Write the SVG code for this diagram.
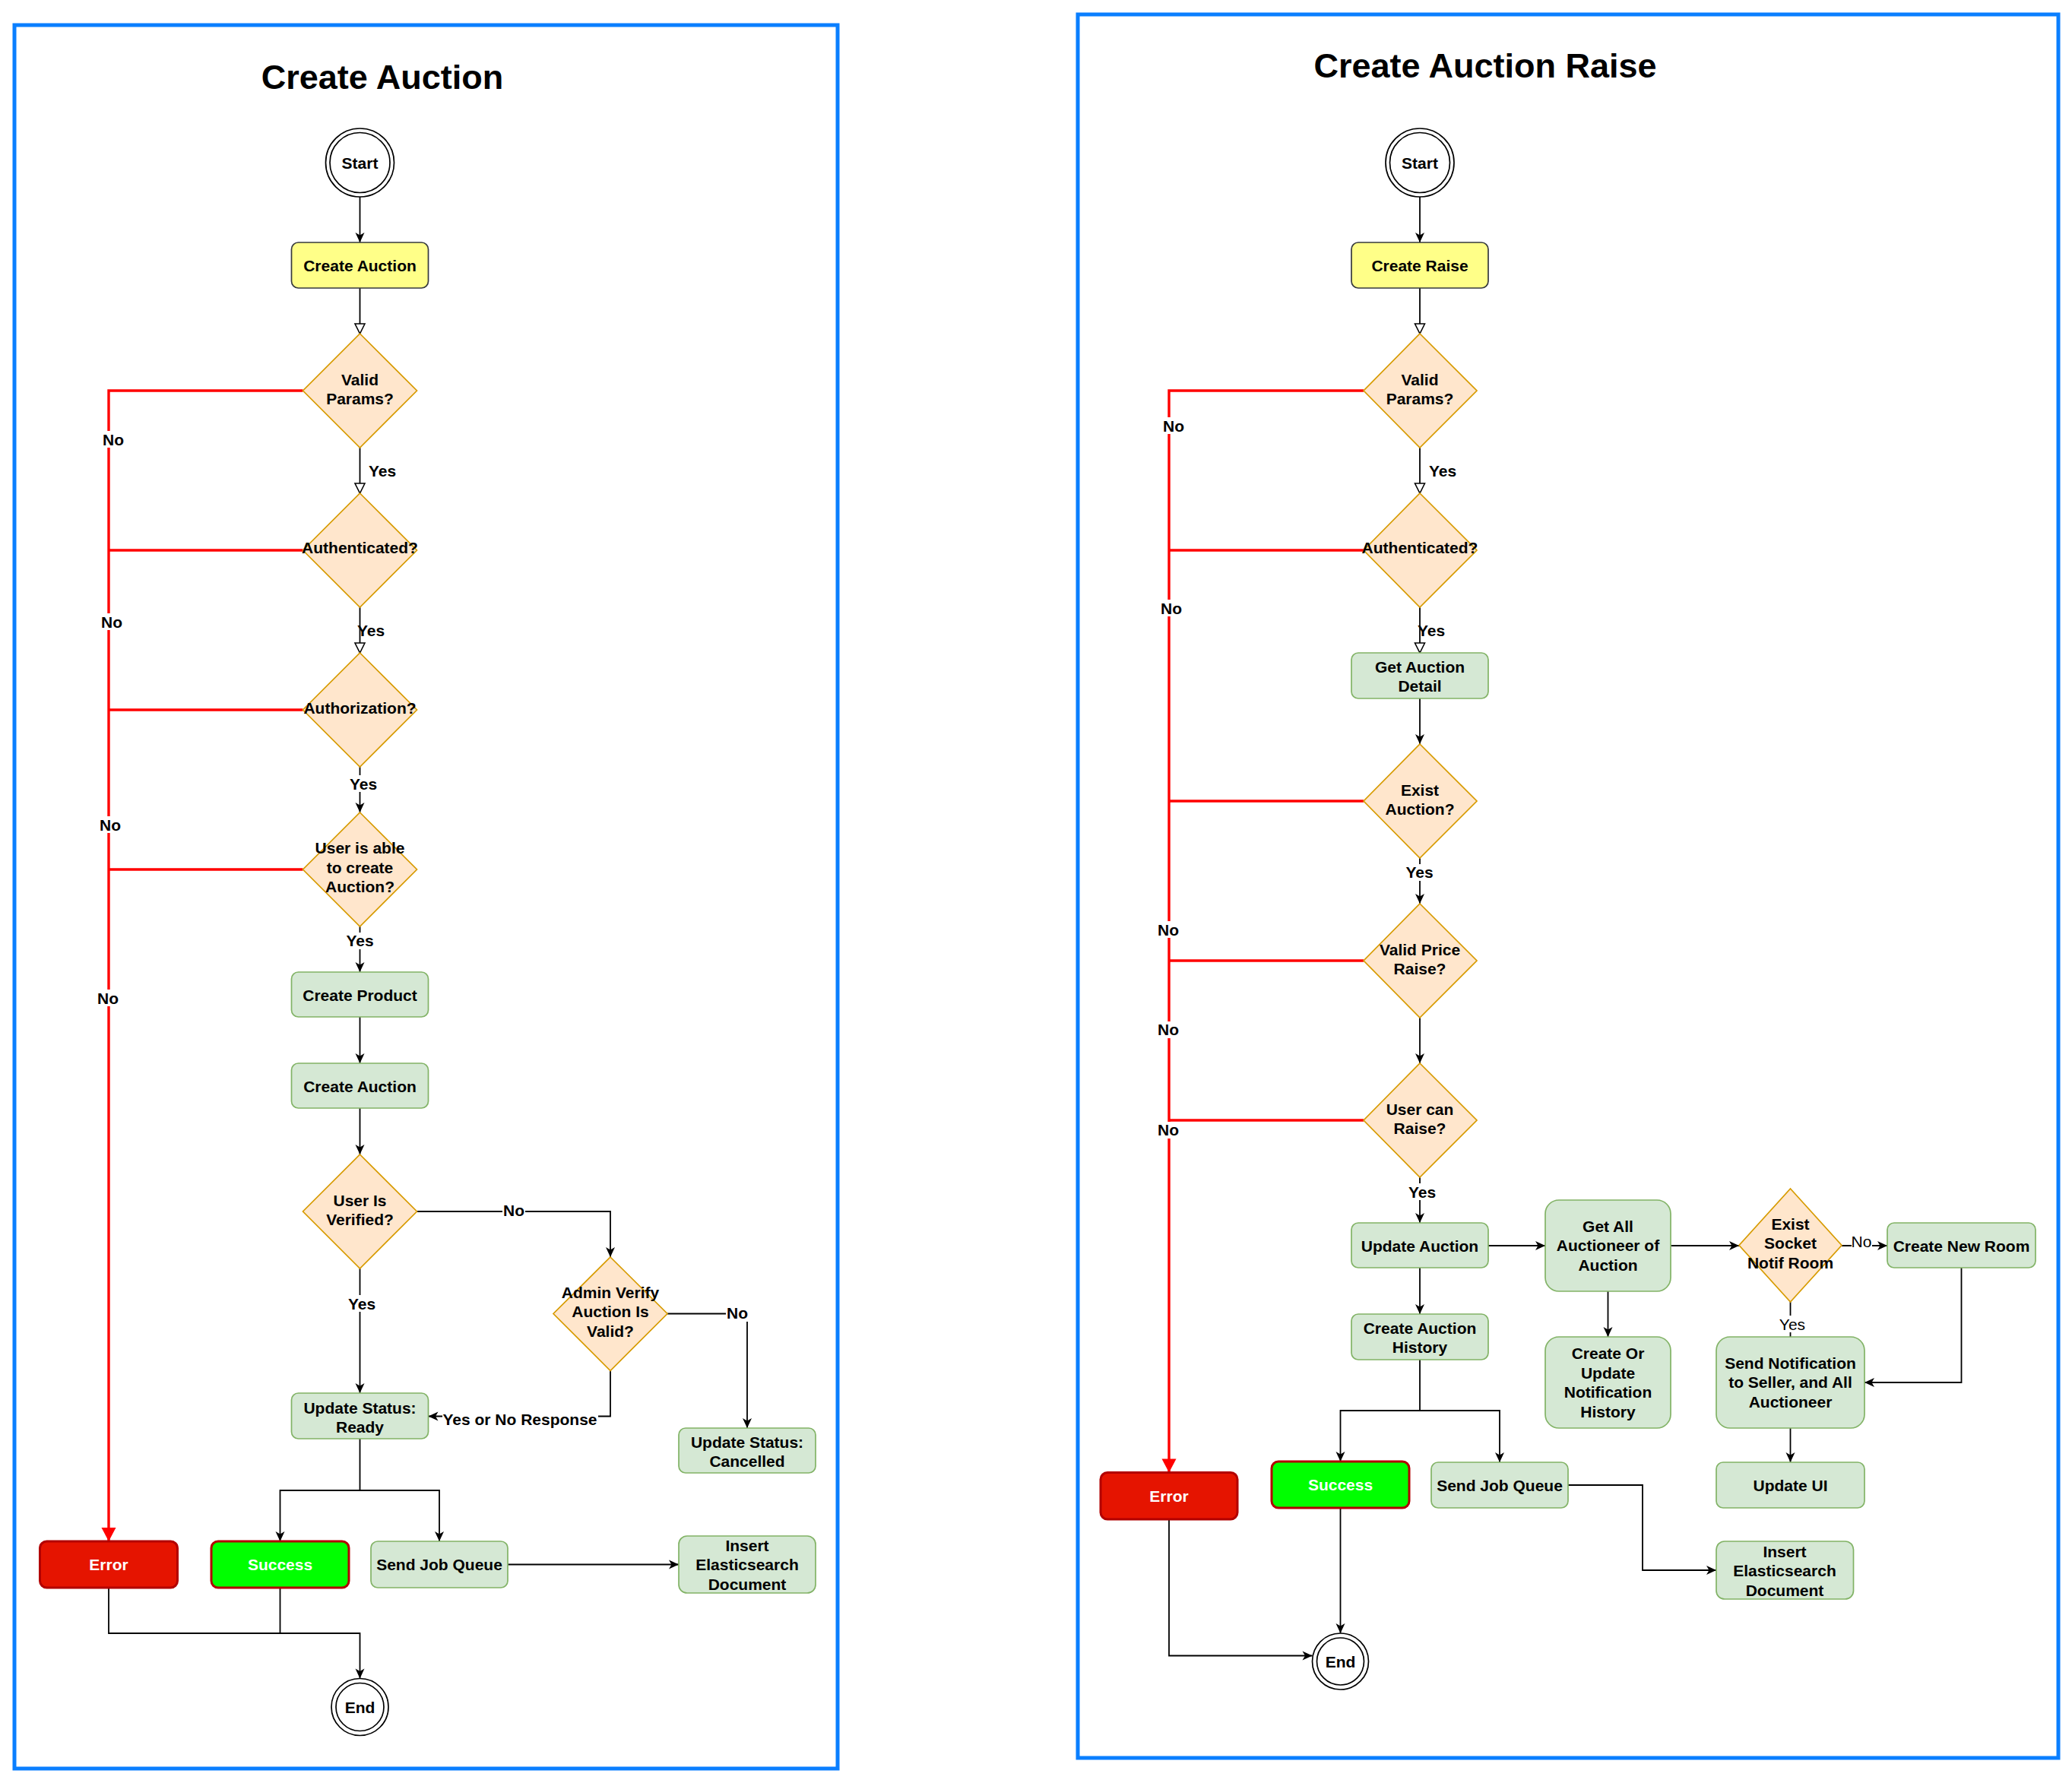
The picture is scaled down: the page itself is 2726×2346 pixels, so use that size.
<svg xmlns="http://www.w3.org/2000/svg" width="2726" height="2346" viewBox="0 0 2726 2346">
<style>
text{font-family:"Liberation Sans",Arial,Helvetica,sans-serif;font-size:21px;font-weight:bold;fill:#000;text-anchor:middle}
.title{font-size:45px}
.reg{font-weight:normal}
.wt{fill:#fff}
.frame{fill:none;stroke:#0a7fff;stroke-width:5}
.term{fill:#fff;stroke:#000;stroke-width:1.7}
.yel{fill:#ffff88;stroke:#36393d;stroke-width:1.7}
.grn{fill:#d5e8d4;stroke:#82b366;stroke-width:1.7}
.dia{fill:#ffe6cc;stroke:#d79b00;stroke-width:1.7}
.err{fill:#e51400;stroke:#b20000;stroke-width:3}
.suc{fill:#00ff00;stroke:#b20000;stroke-width:3}
.ln{fill:none;stroke:#000;stroke-width:1.8}
.arr{marker-end:url(#classic)}
.opn{marker-end:url(#open)}
.red{fill:none;stroke:#ff0000;stroke-width:3.4}
.lbg{fill:#fff}
</style>
<defs>
<marker id="classic" markerUnits="userSpaceOnUse" markerWidth="14" markerHeight="12" refX="13" refY="6" orient="auto" overflow="visible">
<path d="M0,0 L13,6 L0,12 L3.5,6 Z" fill="#000"/>
</marker>
<marker id="open" markerUnits="userSpaceOnUse" markerWidth="14" markerHeight="14" refX="13" refY="6.5" orient="auto" overflow="visible">
<path d="M0,0 L13,6.5 L0,13 Z" fill="#fff" stroke="#000" stroke-width="1.6"/>
</marker>
<marker id="redblk" markerUnits="userSpaceOnUse" markerWidth="19" markerHeight="19" refX="18" refY="9.5" orient="auto" overflow="visible">
<path d="M0,0 L18,9.5 L0,19 Z" fill="#ff0000"/>
</marker>
</defs>
<rect width="2726" height="2346" fill="#fff"/>

<!-- ================= LEFT: Create Auction ================= -->
<g id="frame-left"><rect class="frame" x="19" y="33" width="1083" height="2294"/></g>
<g id="title-left"><text class="title" x="503" y="117">Create Auction</text></g>

<g id="connectors-left">
<path class="ln arr" d="M473.5,259 V319"/>
<path class="ln opn" d="M473.5,379 V439"/>
<path class="ln opn" d="M473.5,589 V649"/>
<path class="ln opn" d="M473.5,799 V859"/>
<path class="ln arr" d="M473.5,1009 V1069"/>
<path class="ln arr" d="M473.5,1219 V1279"/>
<path class="ln arr" d="M473.5,1338 V1399"/>
<path class="ln arr" d="M473.5,1458 V1519"/>
<path class="ln arr" d="M548.5,1594 H803 V1654"/>
<path class="ln arr" d="M473.5,1669 V1833"/>
<path class="ln arr" d="M878,1728.5 H983 V1879"/>
<path class="ln arr" d="M803,1803.5 V1863.5 H563.5"/>
<path class="ln arr" d="M473.5,1893 V1961 H368.5 V2028"/>
<path class="ln arr" d="M473.5,1961 H578 V2028"/>
<path class="ln arr" d="M668,2058.5 H893"/>
<path class="ln arr" d="M143,2089 V2149 H473.5 V2208.5"/>
<path class="ln" d="M368.5,2089 V2149"/>
<path class="red" d="M398.5,514 H143 V2028" marker-end="url(#redblk)"/>
<path class="red" d="M398.5,724 H143"/>
<path class="red" d="M398.5,934 H143"/>
<path class="red" d="M398.5,1144 H143"/>
<!-- labels -->
<rect class="lbg" x="134" y="567" width="30" height="22"/><text x="149" y="585.5">No</text>
<rect class="lbg" x="132" y="807" width="30" height="22"/><text x="147" y="825.5">No</text>
<rect class="lbg" x="130" y="1074" width="30" height="22"/><text x="145" y="1092.5">No</text>
<rect class="lbg" x="127" y="1302" width="30" height="22"/><text x="142" y="1320.5">No</text>
<rect class="lbg" x="484" y="608" width="39" height="22"/><text x="503" y="626.5">Yes</text>
<text x="488" y="836.5">Yes</text>
<rect class="lbg" x="459" y="1020" width="39" height="22"/><text x="478" y="1038.5">Yes</text>
<rect class="lbg" x="454" y="1227" width="39" height="22"/><text x="473.5" y="1245">Yes</text>
<rect class="lbg" x="457" y="1704" width="39" height="22"/><text x="476" y="1722.5">Yes</text>
<rect class="lbg" x="661" y="1582" width="30" height="22"/><text x="676" y="1600">No</text>
<rect class="lbg" x="955" y="1717" width="30" height="22"/><text x="970" y="1735">No</text>
<rect class="lbg" x="582" y="1856" width="205" height="22"/><text x="684" y="1874.5">Yes or No Response</text>
</g>

<g id="l-start"><circle class="term" cx="473.5" cy="214" r="45"/><circle class="term" cx="473.5" cy="214" r="39.5"/><text x="473.5" y="221.5">Start</text></g>
<g id="l-create-auction"><rect class="yel" x="383.5" y="319" width="180" height="60" rx="9"/><text x="473.5" y="356.5">Create Auction</text></g>
<g id="l-valid-params"><polygon class="dia" points="473.5,439 548.5,514 473.5,589 398.5,514"/><text x="473.5" y="506.5">Valid</text><text x="473.5" y="531.5">Params?</text></g>
<g id="l-authenticated"><polygon class="dia" points="473.5,649 548.5,724 473.5,799 398.5,724"/><text x="473.5" y="728">Authenticated?</text></g>
<g id="l-authorization"><polygon class="dia" points="473.5,859 548.5,934 473.5,1009 398.5,934"/><text x="473.5" y="938.5">Authorization?</text></g>
<g id="l-user-able"><polygon class="dia" points="473.5,1069 548.5,1144 473.5,1219 398.5,1144"/><text x="473.5" y="1123">User is able</text><text x="473.5" y="1148.5">to create</text><text x="473.5" y="1174">Auction?</text></g>
<g id="l-create-product"><rect class="grn" x="383.5" y="1279" width="180" height="59" rx="9"/><text x="473.5" y="1316.5">Create Product</text></g>
<g id="l-create-auction-2"><rect class="grn" x="383.5" y="1399" width="180" height="59" rx="9"/><text x="473.5" y="1436.5">Create Auction</text></g>
<g id="l-user-verified"><polygon class="dia" points="473.5,1519 548.5,1594 473.5,1669 398.5,1594"/><text x="473.5" y="1586.5">User Is</text><text x="473.5" y="1611.5">Verified?</text></g>
<g id="l-admin-verify"><polygon class="dia" points="803,1654 878,1728.5 803,1803.5 728,1728.5"/><text x="803" y="1707.5">Admin Verify</text><text x="803" y="1733">Auction Is</text><text x="803" y="1758.5">Valid?</text></g>
<g id="l-status-ready"><rect class="grn" x="383.5" y="1833" width="180" height="60" rx="9"/><text x="473.5" y="1859.5">Update Status:</text><text x="473.5" y="1885">Ready</text></g>
<g id="l-status-cancelled"><rect class="grn" x="893" y="1879" width="180" height="59" rx="9"/><text x="983" y="1904.5">Update Status:</text><text x="983" y="1930">Cancelled</text></g>
<g id="l-error"><rect class="err" x="52.5" y="2028" width="181" height="61" rx="9"/><text class="wt" x="143" y="2066">Error</text></g>
<g id="l-success"><rect class="suc" x="278" y="2028" width="181" height="61" rx="9"/><text class="wt" x="368.5" y="2066">Success</text></g>
<g id="l-send-job"><rect class="grn" x="488" y="2028" width="180" height="61" rx="9"/><text x="578" y="2066">Send Job Queue</text></g>
<g id="l-insert-es"><rect class="grn" x="893" y="2021" width="180" height="75" rx="11"/><text x="983" y="2040.5">Insert</text><text x="983" y="2066">Elasticsearch</text><text x="983" y="2091.5">Document</text></g>
<g id="l-end"><circle class="term" cx="473.5" cy="2246" r="37.5"/><circle class="term" cx="473.5" cy="2246" r="31.5"/><text x="473.5" y="2253.5">End</text></g>

<!-- ================= RIGHT: Create Auction Raise ================= -->
<g id="frame-right"><rect class="frame" x="1418" y="19" width="1290" height="2294"/></g>
<g id="title-right"><text class="title" x="1954" y="102">Create Auction Raise</text></g>

<g id="connectors-right">
<path class="ln arr" d="M1868,259 V319"/>
<path class="ln opn" d="M1868,379 V439"/>
<path class="ln opn" d="M1868,589 V649"/>
<path class="ln opn" d="M1868,799 V859"/>
<path class="ln arr" d="M1868,919 V979"/>
<path class="ln arr" d="M1868,1129 V1189"/>
<path class="ln arr" d="M1868,1339 V1399"/>
<path class="ln arr" d="M1868,1549 V1609"/>
<path class="ln arr" d="M1958,1639 H2033"/>
<path class="ln arr" d="M2198,1639 H2288"/>
<path class="ln arr" d="M2423,1639 H2483"/>
<path class="ln arr" d="M2580.5,1668 V1819 H2453"/>
<path class="ln" d="M2355.5,1713 V1759"/>
<path class="ln arr" d="M2355.5,1879 V1924"/>
<path class="ln arr" d="M2115.5,1699 V1759"/>
<path class="ln arr" d="M1868,1668 V1729"/>
<path class="ln arr" d="M1868,1789 V1856 H1763.5 V1923"/>
<path class="ln arr" d="M1868,1856 H1973 V1924"/>
<path class="ln arr" d="M2063,1954 H2161 V2066 H2258"/>
<path class="ln arr" d="M1763.5,1984 V2149"/>
<path class="ln arr" d="M1538,1999 V2178.5 H1726.5"/>
<path class="red" d="M1794,514 H1538 V1937.5" marker-end="url(#redblk)"/>
<path class="red" d="M1794,724 H1538"/>
<path class="red" d="M1794,1054 H1538"/>
<path class="red" d="M1794,1264 H1538"/>
<path class="red" d="M1794,1474 H1538"/>
<!-- labels -->
<rect class="lbg" x="1529" y="549" width="30" height="22"/><text x="1544" y="567.5">No</text>
<rect class="lbg" x="1526" y="789" width="30" height="22"/><text x="1541" y="807.5">No</text>
<rect class="lbg" x="1522" y="1212" width="30" height="22"/><text x="1537" y="1230.5">No</text>
<rect class="lbg" x="1522" y="1344" width="30" height="22"/><text x="1537" y="1362">No</text>
<rect class="lbg" x="1522" y="1476" width="30" height="22"/><text x="1537" y="1494">No</text>
<rect class="lbg" x="1879" y="608" width="39" height="22"/><text x="1898" y="626.5">Yes</text>
<text x="1883" y="836.5">Yes</text>
<rect class="lbg" x="1848" y="1137" width="39" height="22"/><text x="1867.5" y="1155">Yes</text>
<rect class="lbg" x="1852" y="1557" width="39" height="22"/><text x="1871" y="1575.5">Yes</text>
<rect class="lbg" x="2436" y="1623" width="27" height="22"/><text class="reg" x="2449" y="1641">No</text>
<rect class="lbg" x="2340" y="1731" width="37" height="22"/><text class="reg" x="2358" y="1749.5">Yes</text>
</g>

<g id="r-start"><circle class="term" cx="1868" cy="214" r="45"/><circle class="term" cx="1868" cy="214" r="39.5"/><text x="1868" y="221.5">Start</text></g>
<g id="r-create-raise"><rect class="yel" x="1778" y="319" width="180" height="60" rx="9"/><text x="1868" y="356.5">Create Raise</text></g>
<g id="r-valid-params"><polygon class="dia" points="1868,439 1943,514 1868,589 1794,514"/><text x="1868" y="506.5">Valid</text><text x="1868" y="531.5">Params?</text></g>
<g id="r-authenticated"><polygon class="dia" points="1868,649 1943,724 1868,799 1794,724"/><text x="1868" y="728">Authenticated?</text></g>
<g id="r-get-auction"><rect class="grn" x="1778" y="859" width="180" height="60" rx="9"/><text x="1868" y="884.5">Get Auction</text><text x="1868" y="910">Detail</text></g>
<g id="r-exist-auction"><polygon class="dia" points="1868,979 1943,1054 1868,1129 1794,1054"/><text x="1868" y="1046.5">Exist</text><text x="1868" y="1072">Auction?</text></g>
<g id="r-valid-price"><polygon class="dia" points="1868,1189 1943,1264 1868,1339 1794,1264"/><text x="1868" y="1256.5">Valid Price</text><text x="1868" y="1282">Raise?</text></g>
<g id="r-user-can"><polygon class="dia" points="1868,1399 1943,1474 1868,1549 1794,1474"/><text x="1868" y="1466.5">User can</text><text x="1868" y="1492">Raise?</text></g>
<g id="r-update-auction"><rect class="grn" x="1778" y="1609" width="180" height="59" rx="9"/><text x="1868" y="1646.5">Update Auction</text></g>
<g id="r-auction-history"><rect class="grn" x="1778" y="1729" width="180" height="60" rx="9"/><text x="1868" y="1754.5">Create Auction</text><text x="1868" y="1779.5">History</text></g>
<g id="r-get-all"><rect class="grn" x="2033" y="1579" width="165" height="120" rx="18"/><text x="2115.5" y="1620.5">Get All</text><text x="2115.5" y="1646">Auctioneer of</text><text x="2115.5" y="1671.5">Auction</text></g>
<g id="r-notif-history"><rect class="grn" x="2033" y="1759" width="165" height="120" rx="18"/><text x="2115.5" y="1788">Create Or</text><text x="2115.5" y="1813.5">Update</text><text x="2115.5" y="1839">Notification</text><text x="2115.5" y="1864.5">History</text></g>
<g id="r-exist-socket"><polygon class="dia" points="2355.5,1564 2423,1638.5 2355.5,1713 2288,1638.5"/><text x="2355.5" y="1617.5">Exist</text><text x="2355.5" y="1643">Socket</text><text x="2355.5" y="1668.5">Notif Room</text></g>
<g id="r-new-room"><rect class="grn" x="2483" y="1609" width="195" height="59" rx="9"/><text x="2580.5" y="1646.5">Create New Room</text></g>
<g id="r-send-notif"><rect class="grn" x="2258" y="1759" width="195" height="120" rx="18"/><text x="2355.5" y="1800.5">Send Notification</text><text x="2355.5" y="1826">to Seller, and All</text><text x="2355.5" y="1851.5">Auctioneer</text></g>
<g id="r-update-ui"><rect class="grn" x="2258" y="1924" width="195" height="60" rx="9"/><text x="2355.5" y="1961.5">Update UI</text></g>
<g id="r-error"><rect class="err" x="1448" y="1937.5" width="180" height="61.5" rx="9"/><text class="wt" x="1538" y="1976">Error</text></g>
<g id="r-success"><rect class="suc" x="1673" y="1923" width="181" height="61" rx="9"/><text class="wt" x="1763.5" y="1961">Success</text></g>
<g id="r-send-job"><rect class="grn" x="1883" y="1924" width="180" height="60" rx="9"/><text x="1973" y="1961.5">Send Job Queue</text></g>
<g id="r-insert-es"><rect class="grn" x="2258" y="2028" width="180.5" height="76" rx="11"/><text x="2348" y="2048.5">Insert</text><text x="2348" y="2074">Elasticsearch</text><text x="2348" y="2099.5">Document</text></g>
<g id="r-end"><circle class="term" cx="1763.5" cy="2186" r="37"/><circle class="term" cx="1763.5" cy="2186" r="31"/><text x="1763.5" y="2193.5">End</text></g>
</svg>
